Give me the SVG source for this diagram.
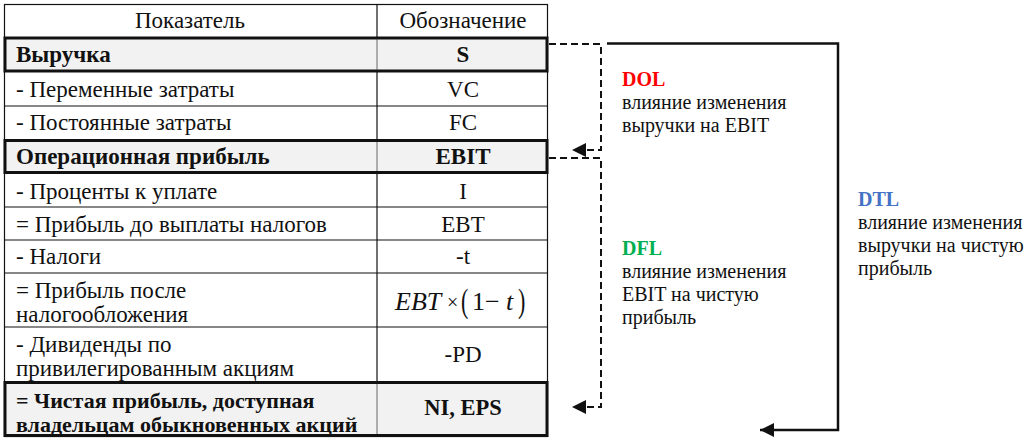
<svg xmlns="http://www.w3.org/2000/svg" width="1024" height="443" viewBox="0 0 1024 443">
<defs>
<style>
.t{font-family:"Liberation Serif","Times New Roman",serif;font-size:23px;fill:#111}
.r{font-size:20px}
.b{font-weight:bold}
.c{text-anchor:middle}
.thin{stroke:#111;stroke-width:1.2;fill:none}
.box{stroke:#111;stroke-width:3;fill:#f2f2f2}
.dash{stroke:#111;stroke-width:2;fill:none;stroke-dasharray:7,4}
.solid{stroke:#111;stroke-width:2.5;fill:none}
</style>
<marker id="ah" viewBox="0 0 10 10" refX="10" refY="5" markerWidth="14" markerHeight="14" markerUnits="userSpaceOnUse" orient="auto">
<path d="M0,0 L10,5 L0,10 z" fill="#111"/>
</marker>
</defs>
<rect width="1024" height="443" fill="#fff"/>
<g id="table">
<rect class="thin" x="4.5" y="4.5" width="543" height="432"/>
<line class="thin" x1="377" y1="4" x2="377" y2="437"/>
<g class="thin">
<line x1="4" y1="106" x2="548" y2="106"/>
<line x1="4" y1="207" x2="548" y2="207"/>
<line x1="4" y1="240" x2="548" y2="240"/>
<line x1="4" y1="273" x2="548" y2="273"/>
<line x1="4" y1="327" x2="548" y2="327"/>
</g>
</g>
<g id="header">
<text class="t c" x="190" y="28">Показатель</text>
<text class="t c" x="463" y="28">Обозначение</text>
</g>
<g id="row-s">
<rect class="box" x="5" y="38" width="542" height="33"/>
<line x1="377" y1="39" x2="377" y2="70" stroke="#444" stroke-width="0.8"/>
<text class="t b" x="16" y="62">Выручка</text>
<text class="t b c" x="463" y="62">S</text>
</g>
<g id="row-vc">
<text class="t" x="16" y="97">- Переменные затраты</text>
<text class="t c" x="463" y="97">VC</text>
</g>
<g id="row-fc">
<text class="t" x="16" y="130">- Постоянные затраты</text>
<text class="t c" x="463" y="130">FC</text>
</g>
<g id="row-ebit">
<rect class="box" x="5" y="140.5" width="542" height="32"/>
<line x1="377" y1="142" x2="377" y2="171" stroke="#444" stroke-width="0.8"/>
<text class="t b" x="16" y="164">Операционная прибыль</text>
<text class="t b c" x="463" y="164">EBIT</text>
</g>
<g id="row-i">
<text class="t" x="16" y="199">- Проценты к уплате</text>
<text class="t c" x="463" y="199">I</text>
</g>
<g id="row-ebt">
<text class="t" x="16" y="232">= Прибыль до выплаты налогов</text>
<text class="t c" x="463" y="232">EBT</text>
</g>
<g id="row-t">
<text class="t" x="16" y="264">- Налоги</text>
<text class="t c" x="463" y="264">-t</text>
</g>
<g id="row-at">
<text class="t" x="16" y="298">= Прибыль после</text>
<text class="t" x="16" y="322">налогообложения</text>
<text class="t" x="395" y="310" style="font-size:26px;font-style:italic">EBT</text>
<text class="t" x="447" y="309" style="font-size:20px">×</text>
<text class="t" x="461" y="0" style="font-size:22px" transform="translate(0,312) scale(1,1.55)">(</text>
<text class="t" x="472" y="310" style="font-size:26px">1−</text>
<text class="t" x="506" y="310" style="font-size:26px;font-style:italic">t</text>
<text class="t" x="518" y="0" style="font-size:22px" transform="translate(0,312) scale(1,1.55)">)</text>
</g>
<g id="row-pd">
<text class="t" x="16" y="352">- Дивиденды по</text>
<text class="t" x="16" y="376">привилегированным акциям</text>
<text class="t c" x="463" y="362">-PD</text>
</g>
<g id="row-ni">
<rect class="box" x="5" y="382.5" width="542" height="53"/>
<line x1="377" y1="384" x2="377" y2="434" stroke="#444" stroke-width="0.8"/>
<text class="t b" x="16" y="408" style="font-size:22px">= Чистая прибыль, доступная</text>
<text class="t b" x="16" y="432" style="font-size:22px">владельцам обыкновенных акций</text>
<text class="t b c" x="463" y="415" style="font-size:22.5px">NI, EPS</text>
</g>
<g id="connectors">
<path class="dash" d="M549,44 H601 V150 H572" marker-end="url(#ah)"/>
<path class="dash" d="M549,158 H601 V407 H572" marker-end="url(#ah)"/>
<path class="solid" d="M607,43.5 H838 V430 H760" marker-end="url(#ah)"/>
</g>
<g id="label-dol">
<text class="t r b" x="622" y="86" style="fill:#ff0000">DOL</text>
<text class="t r" x="622" y="109">влияние изменения</text>
<text class="t r" x="622" y="132">выручки на EBIT</text>
</g>
<g id="label-dfl">
<text class="t r b" x="622" y="255" style="fill:#00b050">DFL</text>
<text class="t r" x="622" y="278">влияние изменения</text>
<text class="t r" x="622" y="301">EBIT на чистую</text>
<text class="t r" x="622" y="324">прибыль</text>
</g>
<g id="label-dtl">
<text class="t r b" x="858" y="206" style="fill:#4472c4">DTL</text>
<text class="t r" x="858" y="229">влияние изменения</text>
<text class="t r" x="858" y="252">выручки на чистую</text>
<text class="t r" x="858" y="275">прибыль</text>
</g>
</svg>
